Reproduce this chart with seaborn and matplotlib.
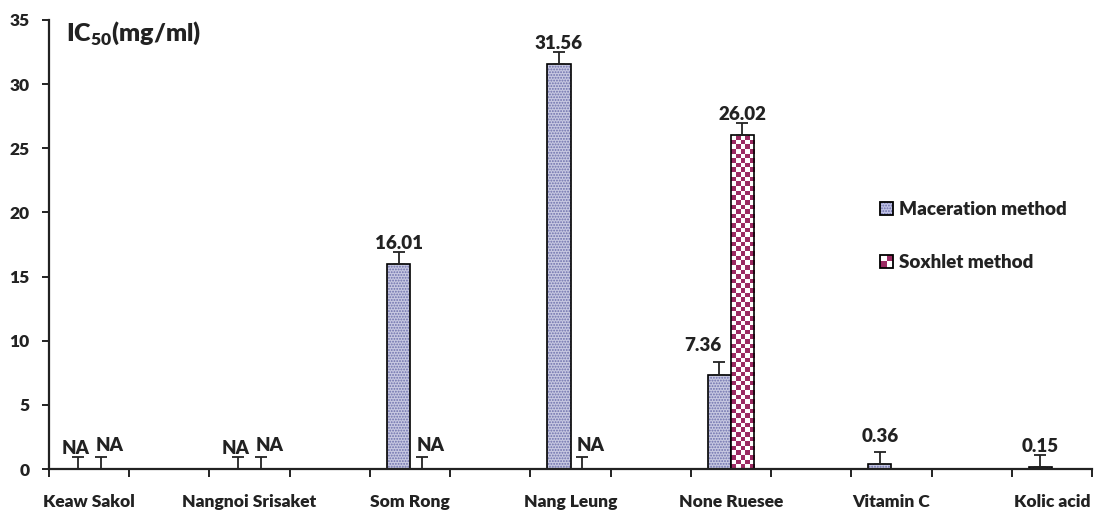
import numpy as np
import pandas as pd
import matplotlib
matplotlib.use("Agg")
import matplotlib.pyplot as plt
import seaborn as sns
from matplotlib.patches import Patch, Rectangle
from matplotlib.legend_handler import HandlerBase
from matplotlib.colors import ListedColormap

# ---------------- data ----------------
categories = ["Keaw Sakol", "Nangnoi Srisaket", "Som Rong", "Nang Leung",
              "None Ruesee", "Vitamin C", "Kolic acid"]
methods = ["Maceration method", "Soxhlet method"]
# "NA" = not available (drawn as an error bar only); "" = no entry
maceration_labels = ["NA", "NA", "16.01", "31.56", "7.36", "0.36", "0.15"]
soxhlet_labels = ["NA", "NA", "NA", "NA", "26.02", "", ""]
maceration_err = [0.95, 0.95, 0.9, 0.95, 0.98, 0.96, 0.94]
soxhlet_err = [0.95, 0.95, 0.95, 0.95, 0.95, 0.0, 0.0]
y_ticks = [0, 5, 10, 15, 20, 25, 30, 35]

# ---------------- styling ----------------
sns.set_style("ticks")
plt.rcParams['font.family'] = ['Lato', 'DejaVu Sans']
plt.rcParams['font.weight'] = 'heavy'
plt.rcParams['mathtext.fontset'] = 'custom'
plt.rcParams['mathtext.rm'] = 'Lato:heavy'
plt.rcParams['mathtext.bf'] = 'Lato:heavy'
plt.rcParams['hatch.linewidth'] = 0.9

W = 'heavy'
MAC_FACE = '#c2c4e6'
MAC_DOT = '#6c6fab'
SOX = '#9b2a62'
TXT = '#222222'

# slots: every category followed by an empty slot (Excel-style spacing)
slot_names = []
for i, c in enumerate(categories):
    slot_names.append(c)
    if i < len(categories) - 1:
        slot_names.append(" " * (i + 1))

rows = []
for c, ml, sl, me, se in zip(categories, maceration_labels, soxhlet_labels,
                              maceration_err, soxhlet_err):
    for m, lab, e in ((methods[0], ml, me), (methods[1], sl, se)):
        if lab == "":
            continue
        val = 0.0 if lab == "NA" else float(lab)
        rows.append(dict(slot=c, method=m, value=val, label=lab, err=e))
df = pd.DataFrame(rows)

fig = plt.figure(figsize=(11, 5.15), dpi=100)
ax = fig.add_axes([49 / 1100, 1 - 469 / 515, (1092 - 49) / 1100, (469 - 20) / 515])

sns.barplot(data=df, x="slot", y="value", hue="method", order=slot_names,
            hue_order=methods, width=0.575, gap=0, errorbar=None,
            palette=[MAC_FACE, SOX], edgecolor='black', linewidth=1.2,
            legend=False, ax=ax)

ax.set_xlim(-0.5, len(slot_names) - 0.5)
ax.set_ylim(0, 35)
ax.set_yticks(y_ticks)
ax.set_yticklabels([str(t) for t in y_ticks], fontweight=W)

# category labels centred under their slot, tick marks at slot borders
ax.set_xticks(np.arange(-0.5, len(slot_names), 1.0))
ax.set_xticklabels([])
cat_pos = [slot_names.index(c) for c in categories]
ax.set_xticks(cat_pos, minor=True)
ax.set_xticklabels(categories, minor=True, fontweight=W)
ax.tick_params(axis='x', which='minor', length=0, pad=18, labelsize=12.5, labelcolor=TXT)
ax.tick_params(axis='x', which='major', length=6, width=1.4, direction='out', color='#222222')
ax.tick_params(axis='y', length=5, width=1.4, pad=9, labelsize=12.5, labelcolor=TXT, color='#222222')
ax.set_xlabel("")
ax.set_ylabel("")
for s in ('top', 'right'):
    ax.spines[s].set_visible(False)
for s in ('left', 'bottom'):
    ax.spines[s].set_linewidth(1.6)
    ax.spines[s].set_color('#222222')

fig.canvas.draw()

# map bars to data rows
offsets_px = {  # (dx, dy) in pixels for label placement quirks
    ("None Ruesee", methods[0]): (-17, 11),
    ("Vitamin C", methods[0]): (0, 10),
}
bar_info = []
for mi, cont in enumerate(ax.containers):
    m = methods[mi]
    sub = df[df.method == m]
    for p in cont.patches:
        xc = p.get_x() + p.get_width() / 2
        slot = slot_names[int(round(xc))]
        r = sub[sub.slot == slot]
        if r.empty:
            continue
        r = r.iloc[0]
        bar_info.append((p, xc, r))

px2pt = 72 / fig.dpi
for p, xc, r in bar_info:
    m = r.method
    if r.label == "NA":
        p.set_visible(False)
    elif m == methods[0]:
        p.set_hatch('......')
        try:
            p.set_hatchcolor(MAC_DOT)
        except Exception:
            p._hatch_color = matplotlib.colors.to_rgba(MAC_DOT)
    else:
        # checkerboard fill clipped to the bar
        x0, w, h = p.get_x(), p.get_width(), p.get_height()
        (X0, Y0) = ax.transData.transform((x0, 0))
        (X1, Y1) = ax.transData.transform((x0 + w, h))
        nx = 5
        sq = (X1 - X0) / nx
        ny = max(1, int(round((Y1 - Y0) / sq)))
        ii, jj = np.indices((ny, nx))
        board = ((ii + jj) % 2).astype(float)
        im = ax.imshow(board, cmap=ListedColormap(['white', SOX]), extent=[x0, x0 + w, 0, h],
                       aspect='auto', interpolation='nearest', origin='upper', zorder=p.get_zorder() + 0.1)
        im.set_clip_path(p)
        p.set_facecolor('none')
        p.set_zorder(p.get_zorder() + 0.2)

    top = r.value
    ax.errorbar([xc], [top], yerr=[[0], [r.err]], fmt='none', ecolor='#222222',
                elinewidth=1.3, capsize=4.5, capthick=1.3, zorder=5)

    dx, dy = offsets_px.get((r.slot, m), (None, None))
    if dx is None:
        if r.label == "NA":
            dx, dy = ((-2, 3) if m == methods[0] else (9, 6))
        else:
            dx, dy = (0, 3)
    ax.annotate(r.label, (xc, top + r.err), xytext=(dx * px2pt, dy * px2pt),
                textcoords='offset points', ha='center', va='baseline',
                fontsize=13.5, fontweight=W, color=TXT, zorder=6)

ax.set_xlim(-0.5, len(slot_names) - 0.5)
ax.set_ylim(0, 35)

# y-axis title
ax.text(66 / 1100, 1 - 20 / 515, r'IC$_{50}$(mg/ml)', transform=fig.transFigure,
        ha='left', va='top', fontsize=18, fontweight=W, color=TXT)


# legend
class CheckerHandler(HandlerBase):
    def create_artists(self, legend, orig, xdescent, ydescent, width, height, fontsize, trans):
        s = height
        x, y = -xdescent, -ydescent
        a = Rectangle((x, y), s, s, fc='white', ec='none', transform=trans)
        b = Rectangle((x, y), s / 2, s / 2, fc=SOX, ec='none', transform=trans)
        b2 = Rectangle((x + s / 2, y + s / 2), s / 2, s / 2, fc=SOX, ec='none', transform=trans)
        c = Rectangle((x, y), s, s, fc='none', ec='black', lw=1.3, transform=trans)
        return [a, b, b2, c]


class SoxKey:
    pass


h_mac = Patch(facecolor=MAC_FACE, edgecolor='black', hatch='......', linewidth=1.3)
try:
    h_mac.set_hatchcolor(MAC_DOT)
except Exception:
    h_mac._hatch_color = matplotlib.colors.to_rgba(MAC_DOT)
h_sox = SoxKey()
leg = fig.legend([h_mac, h_sox], methods, handler_map={SoxKey: CheckerHandler()},
                 loc='center left', bbox_to_anchor=(880 / 1100, 1 - 236 / 515),
                 frameon=False, fontsize=13.5, handlelength=0.7, handleheight=0.7,
                 handletextpad=0.3, labelspacing=1.9, borderpad=0, borderaxespad=0)
for t in leg.get_texts():
    t.set_fontweight(W)
    t.set_color(TXT)

fig.savefig("out.png", dpi=100)
